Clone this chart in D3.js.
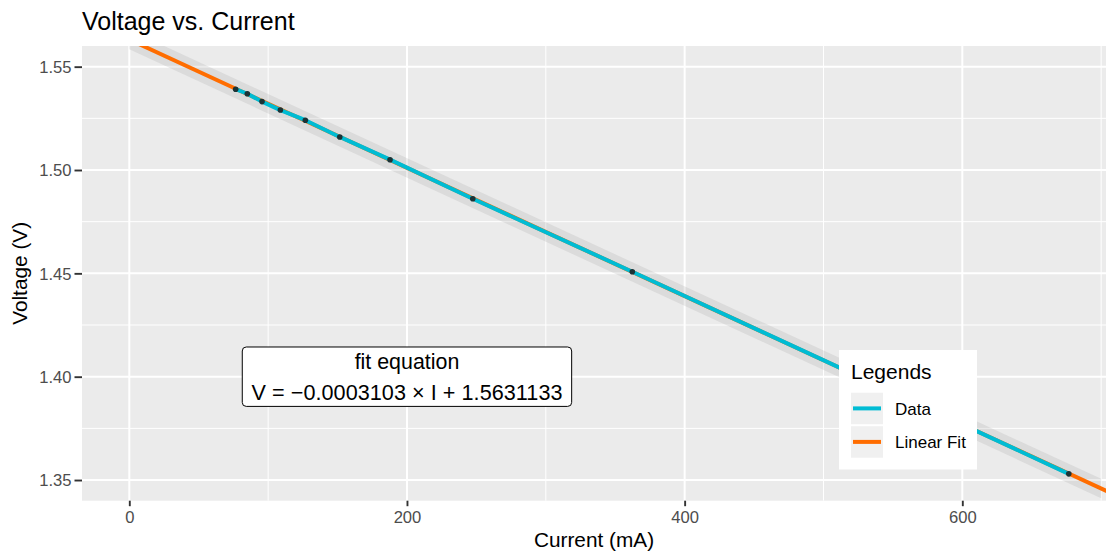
<!DOCTYPE html>
<html>
<head>
<meta charset="utf-8">
<script src="https://cdn.jsdelivr.net/npm/d3@7"></script>
<style>
  body { margin: 0; background: #fff; }
  svg { display: block; font-family: "Liberation Sans", Arial, sans-serif; }
</style>
</head>
<body>
<div id="chart"></div>
<script>
// measured data points: current (mA) and voltage (V)
const current = [76.6, 85.0, 95.6, 108.8, 126.8, 151.6, 187.8, 247.4, 362.3, 676.7];
const voltage = [1.5391, 1.5369, 1.5331, 1.5290, 1.5241, 1.5160, 1.5050, 1.4861, 1.4508, 1.3530];

// linear fit from the equation label
const fitSlope = -0.0003103;
const fitIntercept = 1.5631133;
const fitRange = [0, 720];
const ribbonRange = [0, 700];
const ribbonHalf = 0.0047;

const xMajor = [0, 200, 400, 600];
const xMinor = [100, 300, 500, 700];
const yMajor = [1.35, 1.40, 1.45, 1.50, 1.55];
const yMinor = [1.375, 1.425, 1.475, 1.525];

const legendLabels = ["Data", "Linear Fit"];
const colors = { "Data": "#00BCD4", "Linear Fit": "#FF6D00" };

const W = 1106, H = 554;
const margin = { top: 46, right: 0, bottom: 53.3, left: 82 };
const width = W - margin.left - margin.right;
const height = H - margin.top - margin.bottom;

const svg = d3.select("#chart").append("svg")
  .attr("width", W)
  .attr("height", H);

const x = d3.scaleLinear().domain([-34.07, 703.5]).range([0, width]);
const y = d3.scaleLinear().domain([1.34, 1.56]).range([height, 0]);

svg.append("defs").append("clipPath").attr("id", "clip")
  .append("rect").attr("width", width).attr("height", height);

const g = svg.append("g")
  .attr("transform", `translate(${margin.left},${margin.top})`);

// panel
g.append("rect").attr("width", width).attr("height", height).attr("fill", "#EBEBEB");

// grid
g.selectAll(".xminor").data(xMinor).enter().append("line")
  .attr("x1", d => x(d)).attr("x2", d => x(d)).attr("y1", 0).attr("y2", height)
  .attr("stroke", "#fff").attr("stroke-width", 1);
g.selectAll(".yminor").data(yMinor).enter().append("line")
  .attr("y1", d => y(d)).attr("y2", d => y(d)).attr("x1", 0).attr("x2", width)
  .attr("stroke", "#fff").attr("stroke-width", 1);
g.selectAll(".xmajor").data(xMajor).enter().append("line")
  .attr("x1", d => x(d)).attr("x2", d => x(d)).attr("y1", 0).attr("y2", height)
  .attr("stroke", "#fff").attr("stroke-width", 2);
g.selectAll(".ymajor").data(yMajor).enter().append("line")
  .attr("y1", d => y(d)).attr("y2", d => y(d)).attr("x1", 0).attr("x2", width)
  .attr("stroke", "#fff").attr("stroke-width", 2);

const plot = g.append("g").attr("clip-path", "url(#clip)");

// ribbon around fit
const fitAt = i => fitIntercept + fitSlope * i;
plot.append("path")
  .datum(ribbonRange)
  .attr("d", d3.area()
    .x(d => x(d))
    .y0(d => y(fitAt(d) - ribbonHalf))
    .y1(d => y(fitAt(d) + ribbonHalf)))
  .attr("fill", "#999999")
  .attr("fill-opacity", 0.2);

// fit line
plot.append("path")
  .datum(fitRange)
  .attr("d", d3.line().x(d => x(d)).y(d => y(fitAt(d))))
  .attr("fill", "none")
  .attr("stroke", colors["Linear Fit"])
  .attr("stroke-width", 4);

// data line
const pts = current.map((c, i) => [c, voltage[i]]);
plot.append("path")
  .datum(pts)
  .attr("d", d3.line().x(d => x(d[0])).y(d => y(d[1])))
  .attr("fill", "none")
  .attr("stroke", colors["Data"])
  .attr("stroke-width", 4)
  .attr("stroke-linejoin", "round");

plot.selectAll(".pt").data(pts).enter().append("circle")
  .attr("cx", d => x(d[0]))
  .attr("cy", d => y(d[1]))
  .attr("r", 2.8)
  .attr("fill", "#1b3336");

// axes
const xAxis = g.append("g").attr("transform", `translate(0,${height})`)
  .call(d3.axisBottom(x).tickValues(xMajor).tickSize(5.5).tickPadding(5).tickFormat(d3.format("d")));
const yAxis = g.append("g")
  .call(d3.axisLeft(y).tickValues(yMajor).tickSize(7.5).tickPadding(3).tickFormat(d3.format(".2f")));
[xAxis, yAxis].forEach(a => {
  a.select(".domain").remove();
  a.selectAll(".tick line").attr("stroke", "#333333").attr("stroke-width", 1.9);
  a.selectAll(".tick text").attr("fill", "#4D4D4D").style("font-size", "16.6px")
    .style("font-family", "'Liberation Sans', Arial, sans-serif");
});
xAxis.selectAll(".tick text").attr("dy", "0.71em");
yAxis.selectAll(".tick text").attr("dy", "0.355em");

// equation label
const lab = g.append("g").attr("transform", `translate(${x(200)},${y(1.40)})`);
lab.append("rect")
  .attr("x", -164.7).attr("y", -29.7).attr("width", 329.4).attr("height", 59.4)
  .attr("rx", 4).attr("fill", "#fff").attr("stroke", "#000").attr("stroke-width", 1);
lab.append("text").attr("text-anchor", "middle").attr("y", -7.5)
  .style("font-size", "21.4px").text("fit equation");
lab.append("text").attr("text-anchor", "middle").attr("y", 23)
  .style("font-size", "21.6px").attr("textLength", 311).attr("lengthAdjust", "spacing")
  .text("V = \u22120.0003103 \u00D7 I + 1.5631133");

// legend
const leg = svg.append("g").attr("transform", "translate(839,350)");
leg.append("rect").attr("width", 138).attr("height", 119.5).attr("fill", "#fff");
leg.append("text").attr("x", 12).attr("y", 29).style("font-size", "21px").text("Legends");
legendLabels.forEach((lbl, i) => {
  const ky = 42.7 + i * 33.5;
  leg.append("rect").attr("x", 12).attr("y", ky).attr("width", 32).attr("height", 31.5)
    .attr("fill", "#F0F0F0");
  leg.append("line").attr("x1", 14).attr("x2", 42)
    .attr("y1", ky + 15.7).attr("y2", ky + 15.7)
    .attr("stroke", colors[lbl]).attr("stroke-width", 4);
  leg.append("text").attr("x", 56).attr("y", ky + 21.8)
    .style("font-size", "17px").text(lbl);
});

// titles
svg.append("text").attr("x", 82).attr("y", 30).style("font-size", "25px").text("Voltage vs. Current");
svg.append("text").attr("x", margin.left + width / 2).attr("y", 547)
  .attr("text-anchor", "middle").style("font-size", "20.8px").text("Current (mA)");
svg.append("text")
  .attr("transform", `translate(27,${margin.top + height / 2}) rotate(-90)`)
  .attr("text-anchor", "middle").style("font-size", "20.8px").text("Voltage (V)");
</script>
</body>
</html>
